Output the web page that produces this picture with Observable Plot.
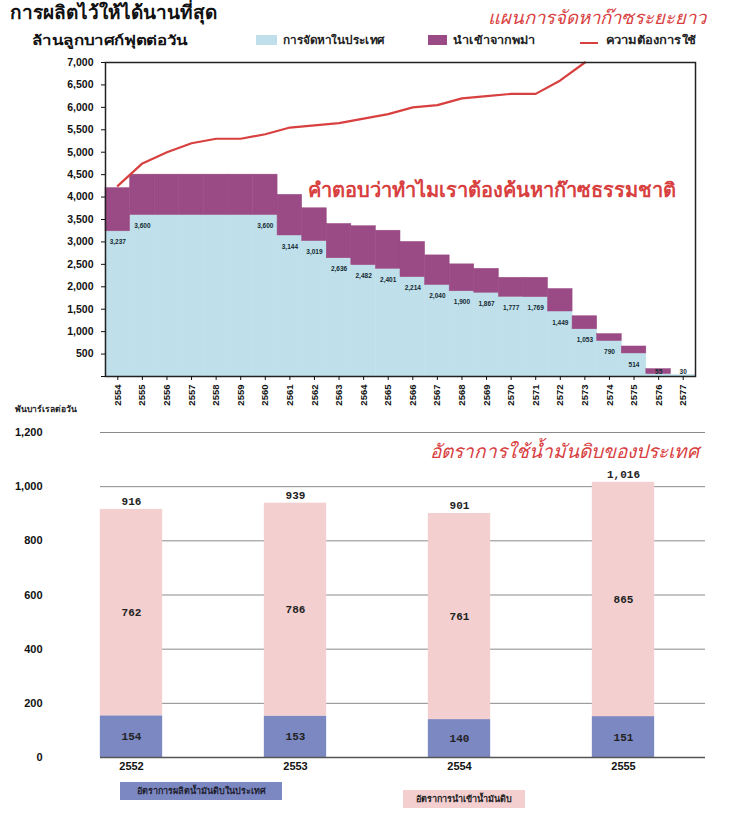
<!DOCTYPE html>
<html><head><meta charset="utf-8">
<script src="https://cdn.jsdelivr.net/npm/d3@7"></script>
<script src="https://cdn.jsdelivr.net/npm/@observablehq/plot@0.6"></script>
<style>
body{margin:0;background:#fff;font-family:"Noto Sans","Liberation Sans",sans-serif;}
#wrap{position:relative;width:741px;height:832px;overflow:hidden;background:#fff;}
.abs{position:absolute;white-space:nowrap;}
</style></head>
<body><div id="wrap">
<div class="abs" style="left:10px;top:-3px;font-size:19px;font-weight:bold;color:#111;">การผลิตไว้ให้ได้นานที่สุด</div>
<div class="abs" style="left:488px;top:3px;font-size:18.5px;font-style:italic;color:#d8403f;">แผนการจัดหาก๊าซระยะยาว</div>
<div class="abs" style="left:32px;top:30px;font-size:13px;font-weight:bold;color:#111;transform:scaleX(1.3);transform-origin:left center;">ล้านลูกบาศก์ฟุตต่อวัน</div>
<div class="abs" style="left:256px;top:35px;width:21px;height:10px;background:#bfe0ea;"></div>
<div class="abs" style="left:283px;top:31px;font-size:11px;font-weight:bold;color:#222;transform:scaleX(1.07);transform-origin:left center;">การจัดหาในประเทศ</div>
<div class="abs" style="left:428px;top:35px;width:19px;height:10px;background:#9a4a84;"></div>
<div class="abs" style="left:453px;top:31px;font-size:11px;font-weight:bold;color:#222;transform:scaleX(1.15);transform-origin:left center;">นำเข้าจากพม่า</div>
<div class="abs" style="left:580px;top:42px;width:18px;height:2px;background:#d8403f;"></div>
<div class="abs" style="left:606px;top:31px;font-size:11px;font-weight:bold;color:#222;transform:scaleX(1.18);transform-origin:left center;">ความต้องการใช้</div>
<div id="top" class="abs" style="left:0;top:55px;"></div>
<div class="abs" style="left:308px;top:174px;font-size:20px;font-weight:bold;color:#d8403f;">คำตอบว่าทำไมเราต้องค้นหาก๊าซธรรมชาติ</div>
<div class="abs" style="left:15px;top:402px;font-size:8.5px;font-weight:bold;color:#222;">พันบาร์เรลต่อวัน</div>
<div id="bottom" class="abs" style="left:0;top:420px;"></div>
<div class="abs" style="left:430px;top:436px;font-size:19px;font-style:italic;color:#d8403f;">อัตราการใช้น้ำมันดิบของประเทศ</div>
<div class="abs" style="left:120px;top:782px;width:162px;height:18px;background:#7c88c2;font-size:9px;font-weight:bold;color:#223;line-height:18px;text-align:center;">อัตราการผลิตน้ำมันดิบในประเทศ</div>
<div class="abs" style="left:403px;top:790px;width:122px;height:18px;background:#f3cfd0;font-size:9px;font-weight:bold;color:#222;line-height:18px;text-align:center;">อัตราการนำเข้าน้ำมันดิบ</div>
</div>
<script>
// ---- Top chart data (million cubic feet per day) ----
const years = ["2554","2555","2556","2557","2558","2559","2560","2561","2562","2563","2564","2565","2566","2567","2568","2569","2570","2571","2572","2573","2574","2575","2576","2577"];
const domestic = [3237,3600,3600,3600,3600,3600,3600,3144,3019,2636,2482,2401,2214,2040,1900,1867,1777,1769,1449,1053,790,514,55,30];
const imports = [963,900,900,900,900,900,900,906,731,764,868,849,786,660,600,533,423,431,501,290,155,155,110,0];
const demandYears = ["2554","2555","2556","2557","2558","2559","2560","2561","2562","2563","2564","2565","2566","2567","2568","2569","2570","2571","2572","2573"];
const demand = [4250,4750,5000,5200,5300,5300,5400,5550,5600,5650,5750,5850,6000,6050,6200,6250,6300,6300,6600,7000];
const topTicks = [0,500,1000,1500,2000,2500,3000,3500,4000,4500,5000,5500,6000,6500,7000];

// ---- Bottom chart data (thousand barrels per day) ----
const oilYears = ["2552","2553","2554","2555"];
const oilDomestic = [154,153,140,151];
const oilImport = [762,786,761,865];
const oilTotal = [916,939,901,1016];
const bottomTicks = [0,200,400,600,800,1000,1200];

const topRows = [];
years.forEach((y,i)=>topRows.push({year:y, series:"domestic", value:domestic[i]}));
years.forEach((y,i)=>topRows.push({year:y, series:"imports", value:imports[i]}));
const labelRows = years.map((y,i)=>({year:y, value:domestic[i]}))
  .filter((d,i)=> i===0 || domestic[i]!==domestic[i-1] || (i<domestic.length-1 && domestic[i]!==domestic[i+1]));
const demandRows = demandYears.map((y,i)=>({year:y, value:demand[i]}));

const topPlot = Plot.plot({
  width:741, height:355, marginLeft:105, marginRight:46, marginTop:7, marginBottom:34,
  style:{fontFamily:"Liberation Sans, Arial, sans-serif", fontWeight:"bold", color:"#111", background:"transparent"},
  x:{type:"band", domain:years, padding:0, round:false, label:null},
  y:{domain:[0,7000], label:null},
  color:{domain:["domestic","imports"], range:["#bfe0ea","#9a4a84"]},
  marks:[
    Plot.barY(topRows, {x:"year", y:"value", fill:"series", inset:0, stroke:"series", strokeWidth:0.5}),
    Plot.text(labelRows, {x:"year", y:d=>Math.max(d.value,345), text:d=>d3.format(",")(d.value), dy:11, fontSize:6.5, fontWeight:"bold", fill:"#152a33"}),
    Plot.lineY(demandRows, {x:"year", y:"value", stroke:"#d8403f", strokeWidth:2.2, curve:"linear"}),
    Plot.frame({stroke:"#222", strokeWidth:1.5}),
    Plot.axisY({ticks:topTicks, tickFormat:d=>d?d3.format(",")(d):"", tickSize:4, tickPadding:8, fontSize:10.5, label:null}),
    Plot.axisX({tickRotate:-90, tickSize:4, tickPadding:4, fontSize:9.5, label:null})
  ]
});
document.getElementById("top").appendChild(topPlot);

const oilRows = [];
oilYears.forEach((y,i)=>oilRows.push({year:y, series:"domestic", value:oilDomestic[i]}));
oilYears.forEach((y,i)=>oilRows.push({year:y, series:"import", value:oilImport[i]}));
const totalRows = oilYears.map((y,i)=>({year:y, value:oilTotal[i]}));

const bottomPlot = Plot.plot({
  width:741, height:362, marginLeft:100, marginRight:36, marginTop:12, marginBottom:25,
  style:{fontFamily:"Liberation Sans, Arial, sans-serif", fontWeight:"bold", color:"#111", background:"transparent"},
  x:{type:"band", domain:oilYears, range:[49,705], paddingInner:0.62, paddingOuter:0.31, round:false, label:null},
  y:{domain:[0,1200], label:null},
  color:{domain:["domestic","import"], range:["#7c88c2","#f3cfd0"]},
  marks:[
    Plot.ruleY(bottomTicks, {stroke:"#8a8a8a", strokeWidth:1}),
    Plot.barY(oilRows, {x:"year", y:"value", fill:"series"}),
    Plot.ruleY([0], {stroke:"#555", strokeWidth:1.5}),
    Plot.text(oilRows, Plot.stackY({x:"year", y:"value", z:"series", text:d=>String(d.value), fontFamily:"Liberation Mono, monospace", fontSize:11, fontWeight:"bold", fill:"#222"})),
    Plot.text(totalRows, {x:"year", y:"value", text:d=>d3.format(",")(d.value), dy:-8, fontFamily:"Liberation Mono, monospace", fontSize:11, fontWeight:"bold", fill:"#222"}),
    Plot.axisY({ticks:bottomTicks, tickFormat:d3.format(","), tickSize:0, tickPadding:58, fontSize:11, label:null}),
    Plot.axisX({tickSize:0, tickPadding:5, fontSize:11, label:null})
  ]
});
document.getElementById("bottom").appendChild(bottomPlot);
</script>
</body></html>
